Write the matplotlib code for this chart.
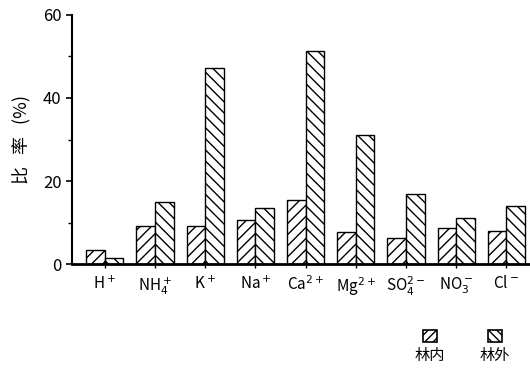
import numpy as np
import matplotlib
matplotlib.use('Agg')
import matplotlib.pyplot as plt
from matplotlib.patches import Rectangle

plt.rcParams['font.family'] = ['Liberation Sans Narrow', 'Noto Sans CJK SC', 'DejaVu Sans']
plt.rcParams['hatch.linewidth'] = 1.0

# ion names and ratio (%) inside / outside the forest
ions = [r'H$^+$', r'NH$_4^+$', r'K$^+$', r'Na$^+$', r'Ca$^{2+}$',
        r'Mg$^{2+}$', r'SO$_4^{2-}$', r'NO$_3^-$', r'Cl$^-$']
inside = [3.4, 9.2, 9.2, 10.6, 15.4, 7.8, 6.2, 8.6, 8.0]
outside = [1.4, 15.0, 47.2, 13.6, 51.3, 31.2, 17.0, 11.2, 14.1]
legend_labels = ['林内', '林外']

fig = plt.figure(figsize=(5.30, 3.72), dpi=100)
ax = fig.add_axes([0.136, 0.29, 0.864, 0.67])

x = np.arange(len(ions))
w = 0.37
ax.bar(x - w / 2, inside, w, color='white', edgecolor='black', hatch='///', linewidth=1.0)
ax.bar(x + w / 2, outside, w, color='white', edgecolor='black', hatch='\\\\\\', linewidth=1.0)

ax.set_xlim(-0.65, 8.47)
ax.set_ylim(0, 60)
ax.set_yticks([0, 20, 40, 60])
ax.set_yticks([10, 30, 50], minor=True)
ax.set_xticks(x)
ax.set_xticklabels(ions, fontsize=11)
ax.tick_params(axis='y', labelsize=12, length=4, width=1.2)
ax.tick_params(axis='y', which='minor', length=3, width=1.0)
ax.tick_params(axis='x', direction='inout', length=6, width=1.0, pad=5)

for s in ['top', 'right']:
    ax.spines[s].set_visible(False)
ax.spines['left'].set_linewidth(1.5)
ax.spines['bottom'].set_linewidth(2.0)

ax.set_ylabel('比   率   (%)', fontsize=13, labelpad=8)

# legend boxes at the lower right
hatches = ['////', '\\\\\\\\']
xs = [0.798, 0.921]
for hx, h, lab in zip(xs, hatches, legend_labels):
    fig.add_artist(Rectangle((hx, 0.081), 0.026, 0.033, transform=fig.transFigure,
                             facecolor='white', edgecolor='black', hatch=h, linewidth=1.2))
    fig.text(hx + 0.013, 0.045, lab, ha='center', va='center', fontsize=11)

plt.savefig('out.png', dpi=100)
